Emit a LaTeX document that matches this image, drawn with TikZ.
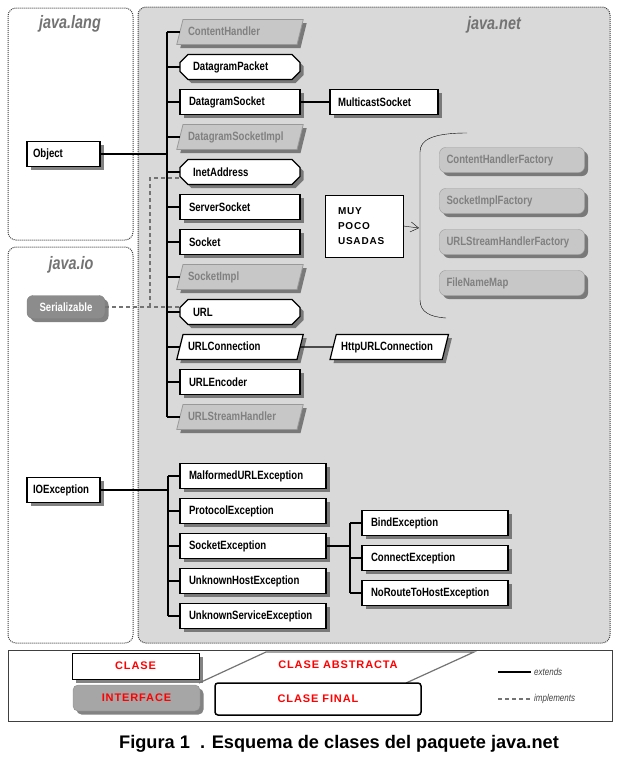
\documentclass[tikz,border=0pt]{standalone}
\usepackage{fontspec}
\setmainfont{Liberation Sans}
\newfontfamily\condfont{Liberation Sans}[FakeStretch=0.8]
\newfontfamily\spacedfont{Liberation Sans}[LetterSpace=8]
\usetikzlibrary{shapes, arrows.meta, positioning, shadows}
\hyphenpenalty=10000
\newcommand{\namefont}{\condfont\bfseries\fontsize{12pt}{13pt}\selectfont}
\newcommand{\keyfont}{\spacedfont\bfseries\fontsize{11pt}{13pt}\selectfont}

\begin{document}
\begin{tikzpicture}[
    x=1pt, y=-1pt,
    node distance=10pt and 30pt,
    boxshadow/.style={drop shadow={shadow xshift=3.5pt, shadow yshift=-3.5pt, opacity=0.75, fill=black!65}},
    cls/.style={rectangle, draw, line width=1.2pt, fill=white, text width=102pt, inner xsep=9pt,
    inner ysep=0pt, outer sep=0pt, minimum height=25pt, align=left, font=\namefont, boxshadow},
    final/.style={cls, chamfered rectangle, chamfered rectangle xsep=4pt, chamfered rectangle ysep=4pt,
    text width=94pt},
    abstract/.style={trapezium, trapezium left angle=76, trapezium right angle=104,
    draw=black!40, line width=0.8pt, fill=black!22, text=black!50, text width=104pt, inner xsep=5pt,
    text height=9pt, text depth=3pt, inner ysep=6.5pt, outer sep=0pt, align=left, font=\namefont, boxshadow},
    abstractw/.style={abstract, draw=black, line width=1.2pt, fill=white, text=black},
    iface/.style={rectangle, rounded corners=6pt, draw=black!40, fill=black!22, text=black!50,
    text width=131pt, inner xsep=7pt, inner ysep=0pt, outer sep=0pt, minimum height=25pt, align=left,
    font=\namefont, boxshadow},
    ifacedark/.style={rectangle, rounded corners=6pt, draw=black!50, fill=black!45, text=white,
    minimum width=78pt, minimum height=23pt, font=\namefont, boxshadow},
    wide/.style={text width=128pt},
    pkg/.style={draw=black!75, densely dotted, line width=1pt, rounded corners=8pt},
    pkglabel/.style={font=\condfont\bfseries\itshape\fontsize{18pt}{20pt}\selectfont, text=black!55},
    extends/.style={draw, line width=1.3pt},
    implements/.style={draw=black!55, line width=1.3pt, dash pattern=on 4pt off 3pt},
    legbox/.style={rectangle, draw, fill=white, minimum width=127pt, minimum height=26pt, font=\keyfont, text=red},
    keylabel/.style={font=\keyfont, text=red},
    keytext/.style={font=\condfont\itshape\fontsize{10pt}{12pt}\selectfont, text=black!75, anchor=west, inner xsep=3pt}
]
\useasboundingbox (0,0) rectangle (624,758);

% Packages
\draw[pkg, fill=white] (8,8) rectangle (133,240);
\draw[pkg, fill=white] (8,247) rectangle (133,643);
\draw[pkg, fill=black!15] (138,7) rectangle (610,643);
\node[pkglabel] (langlbl) at (70,24) {java.lang};
\node[pkglabel] (iolbl) at (71,265) {java.io};
\node[pkglabel] (netlbl) at (494,25) {java.net};

% Nodes
\node[cls, text width=61pt, inner xsep=6pt] (object) at (63.5,154) {Object};
\node[cls, text width=61pt, inner xsep=6pt] (ioexc) at (63.5,490) {IOException};
\node[ifacedark] (serial) at (66,307) {Serializable};

\node[abstract] (chandler) at (240,32) {ContentHandler};
\node[final, below=of chandler] (dpacket) {DatagramPacket};
\node[cls, below=of dpacket] (dsocket) {DatagramSocket};
\node[abstract, below=of dsocket] (dsockimpl) {DatagramSocketImpl};
\node[final, below=of dsockimpl] (inetaddr) {InetAddress};
\node[cls, below=of inetaddr] (ssocket) {ServerSocket};
\node[cls, below=of ssocket] (socket) {Socket};
\node[abstract, below=of socket] (sockimpl) {SocketImpl};
\node[final, below=of sockimpl] (url) {URL};
\node[abstractw, below=of url] (urlconn) {URLConnection};
\node[cls, below=of urlconn] (urlenc) {URLEncoder};
\node[abstract, below=of urlenc] (urlsh) {URLStreamHandler};

\node[cls, text width=92pt, inner xsep=8pt, right=30pt of dsocket] (msocket) {MulticastSocket};
\node[abstractw, text width=96pt, right=33pt of urlconn] (httpconn) {HttpURLConnection};

\node[iface] (chfactory) at (512,160) {ContentHandlerFactory};
\node[iface, below=16pt of chfactory] (sifactory) {SocketImplFactory};
\node[iface, below=16pt of sifactory] (ushfactory) {URLStreamHandlerFactory};
\node[iface, below=16pt of ushfactory] (fnmap) {FileNameMap};

\node[draw, fill=white, thin, text width=52pt, inner xsep=13pt, minimum height=62pt, align=left,
  font=\spacedfont\bfseries\fontsize{10pt}{15pt}\selectfont] (rare) at (364,226) {MUY\\POCO\\USADAS};
\draw[thin] (467,133) .. controls (432,133) and (420,140) .. (420,152) -- (420,300)
  .. controls (420,312) and (430,317) .. (446,318);
\coordinate (bracetip) at (419,228);

\node[cls, wide] (malformed) at (253,476) {MalformedURLException};
\node[cls, wide, below=of malformed] (protocol) {ProtocolException};
\node[cls, wide, below=of protocol] (sockexc) {SocketException};
\node[cls, wide, below=of sockexc] (unkhost) {UnknownHostException};
\node[cls, wide, below=of unkhost] (unkserv) {UnknownServiceException};
\node[cls, wide, right=36pt of sockexc, yshift=-12pt] (connect) {ConnectException};
\node[cls, wide, above=of connect] (bind) {BindException};
\node[cls, wide, below=of connect] (noroute) {NoRouteToHostException};

% Arrows
\coordinate (netjoin) at (167,0);
\coordinate (excjoin) at (168,0);
\coordinate (subjoin) at (350,0);
\coordinate (serjoin) at (150,0);

\draw[extends] (object.east) -- (object.east -| netjoin);
\draw[extends] (chandler.west -| netjoin) -- (urlsh.west -| netjoin);
\draw[extends] (chandler.west) -- (chandler.west -| netjoin);
\draw[extends] (dpacket.west) -- (dpacket.west -| netjoin);
\draw[extends] (dsocket.west) -- (dsocket.west -| netjoin);
\draw[extends] (dsockimpl.west) -- (dsockimpl.west -| netjoin);
\draw[extends] (inetaddr.west) -- (inetaddr.west -| netjoin);
\draw[extends] (ssocket.west) -- (ssocket.west -| netjoin);
\draw[extends] (socket.west) -- (socket.west -| netjoin);
\draw[extends] (sockimpl.west) -- (sockimpl.west -| netjoin);
\draw[extends] (url.west) -- (url.west -| netjoin);
\draw[extends] (urlconn.west) -- (urlconn.west -| netjoin);
\draw[extends] (urlenc.west) -- (urlenc.west -| netjoin);
\draw[extends] (urlsh.west) -- (urlsh.west -| netjoin);
\draw[extends] (dsocket) -- (msocket);
\draw[extends] (urlconn) -- (httpconn);

\draw[implements] (serial.east) -- (serial.east -| url.west);
\draw[implements] (serial.east -| serjoin) |- ([yshift=-6pt]inetaddr.west);

\draw[thin, -{Straight Barb[length=8pt, width=10pt]}] (rare.east) -- (bracetip);

\draw[extends] (ioexc.east) -- (ioexc.east -| excjoin);
\draw[extends] (malformed.west -| excjoin) -- (unkserv.west -| excjoin);
\draw[extends] (malformed.west) -- (malformed.west -| excjoin);
\draw[extends] (protocol.west) -- (protocol.west -| excjoin);
\draw[extends] (sockexc.west) -- (sockexc.west -| excjoin);
\draw[extends] (unkhost.west) -- (unkhost.west -| excjoin);
\draw[extends] (unkserv.west) -- (unkserv.west -| excjoin);
\draw[extends] (sockexc.east) -- (sockexc.east -| subjoin);
\draw[extends] (bind.west -| subjoin) -- (noroute.west -| subjoin);
\draw[extends] (bind.west) -- (bind.west -| subjoin);
\draw[extends] (connect.west) -- (connect.west -| subjoin);
\draw[extends] (noroute.west) -- (noroute.west -| subjoin);

% Legend
\draw[line width=1pt, black!75] (8,650) rectangle (612,721);
\node[legbox, boxshadow] (lgclass) at (135.5,666) {CLASE};
\draw[black!55, line width=1.2pt] (199,683) -- (266,652) -- (474,652) -- (406,683);
\node[keylabel] (lgabstract) at (338,665) {CLASE ABSTRACTA};
\node[legbox, rounded corners=5pt, draw=black!45, fill=black!35, boxshadow] (lgiface) at (136.5,698) {INTERFACE};
\node[legbox, rounded corners=3pt, line width=1.5pt, minimum width=206pt, minimum height=32pt] (lgfinal) at (318,699) {CLASE FINAL};
\node[keytext] (extlbl) at (531,672) {extends};
\node[keytext] (impllbl) at (531,699) {implements};
\coordinate (extkey) at (498,672);
\coordinate (implkey) at (498,699);
\draw[extends] (extkey) -- (extlbl.west);
\draw[implements] (implkey) -- (impllbl.west);

\node[font=\bfseries\fontsize{18.2pt}{20pt}\selectfont] (caption) at (339,744)
  {Figura 1\ \ . Esquema de clases del paquete java.net};

\end{tikzpicture}
\end{document}
